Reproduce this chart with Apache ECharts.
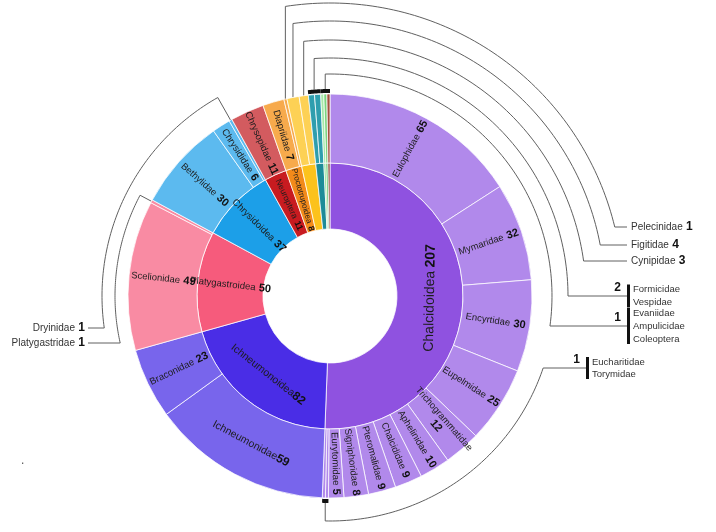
<!DOCTYPE html>
<html><head><meta charset="utf-8">
<script src="https://cdn.jsdelivr.net/npm/echarts/dist/echarts.min.js"></script>
<style>html,body{margin:0;padding:0;background:#fff}#c{width:716px;height:532px}</style>
</head><body><div id="c"></div>
<script>
// ---------------- data ----------------
const superfamilies = ['Chalcidoidea','Ichneumonoidea','Platygastroidea','Chrysidoidea','Neuroptera','Proctotrupoidea','Cynipoidea','Vespoidea','Evanioidea','Apoidea','Coleoptera'];
const families = [
  ['Eulophidae','Mymaridae','Encyrtidae','Eupelmidae','Trichogrammatidae','Aphelinidae','Chalcididae','Pteromalidae','Signiphoridae','Eurytomidae','Eucharitidae','Torymidae'],
  ['Ichneumonidae','Braconidae'],
  ['Scelionidae','Platygastridae'],
  ['Bethylidae','Chrysididae','Dryinidae'],
  ['Chrysopidae'],
  ['Diapriidae','Pelecinidae'],
  ['Figitidae','Cynipidae'],
  ['Formicidae','Vespidae'],
  ['Evaniidae'],
  ['Ampulicidae'],
  ['Coleoptera']
];
const familyCounts = [
  [65,32,30,25,12,10,9,9,8,5,1,1],
  [59,23],
  [49,1],
  [30,6,1],
  [11],
  [7,1],
  [4,3],
  [2,2],
  [1],
  [1],
  [1]
];
// annotated (unlabelled) small families
const rightLeaders = [['Pelecinidae'],['Figitidae'],['Cynipidae'],['Formicidae','Vespidae'],['Evaniidae','Ampulicidae','Coleoptera']];
const bottomLeader = ['Eucharitidae','Torymidae'];
const leftLeaders = [['Dryinidae'],['Platygastridae']];

// ---------------- styles ----------------
const innerColors = ['#8f52e0','#4a2de6','#f65b7c','#1c9fe8','#c81b20','#f28a1a','#fcc21c','#1d8b98','#8ade92','#52c05e','#8a3328'];
const outerColors = ['#b189eb','#7865ec','#f98ba3','#5cbaef','#d35b5f','#f7aa4c','#fdd155','#2e9eae','#a6e8a8','#7ad480','#a5503f'];
const FONT = 'Liberation Sans, Arial, sans-serif';
const CX = 330, CY = 296, R0 = 67, R1 = 133, R2 = 202;

const hidden = ['Eucharitidae','Torymidae','Platygastridae','Dryinidae','Pelecinidae','Figitidae','Cynipidae','Formicidae','Vespidae','Evaniidae','Ampulicidae','Coleoptera','Cynipoidea','Vespoidea','Evanioidea','Apoidea'];
const tangential = ['Chalcidoidea','Ichneumonoidea','Ichneumonidae'];
const joined = ['Ichneumonoidea','Ichneumonidae'];
const twoLine = ['Trichogrammatidae'];
const richFor = (n, b) => ({n:{fontSize:n, color:'#1d1d1d', fontFamily:FONT}, b:{fontSize:b, fontWeight:'bold', color:'#111', fontFamily:FONT}});
const richOverride = {
  'Chalcidoidea': richFor(14, 14),
  'Ichneumonoidea': richFor(10.5, 12),
  'Ichneumonidae': richFor(10.5, 12),
  'Neuroptera': richFor(8.5, 9),
  'Proctotrupoidea': richFor(8, 8.5)
};

function labelFor(name) {
  const l = {};
  if (hidden.includes(name)) l.show = false;
  if (tangential.includes(name)) l.rotate = 'tangential';
  if (richOverride[name]) l.rich = richOverride[name];
  return l;
}

const data = superfamilies.map((sf, i) => ({
  name: sf,
  itemStyle: {color: innerColors[i]},
  label: labelFor(sf),
  children: families[i].map((f, j) => ({
    name: f,
    value: familyCounts[i][j],
    itemStyle: {color: outerColors[i]},
    label: i === 10 ? {show:false} : labelFor(f)
  }))
}));

// ---------------- geometry from data ----------------
const span = {}, countOf = {};
let cum = 0;
families.forEach((fs, i) => fs.forEach((f, j) => {
  span[f] = [cum, cum + familyCounts[i][j]];
  countOf[f] = familyCounts[i][j];
  cum += familyCounts[i][j];
}));
const total = cum;
const ang = v => v / total * Math.PI * 2;          // clockwise from 12 o'clock
const pt = (r, a) => [CX + r * Math.sin(a), CY - r * Math.cos(a)];
function arcPts(R, p1, p2, n) {
  const out = [];
  for (let k = 0; k <= n; k++) {
    const p = p1 + (p2 - p1) * k / n;
    out.push([CX + R * Math.cos(p), CY + R * Math.sin(p)]);
  }
  return out;
}
const LINE = {stroke:'#606060', lineWidth:1, fill:null};
const graphics = [];
function poly(points, style) {
  graphics.push({type:'polyline', silent:true, shape:{points}, style:Object.assign({}, LINE, style || {})});
}
function text(x, y, t, rich, align) {
  graphics.push({type:'text', silent:true, x, y, style:{text:t, rich, align:align || 'left', verticalAlign:'middle', textAlign:align || 'left', textVerticalAlign:'middle', fontFamily:FONT, fill:'#333'}});
}
const annRich = {n:{fontSize:10, fontFamily:FONT, fill:'#333', color:'#333'}, b:{fontSize:12, fontWeight:'bold', fontFamily:FONT, fill:'#111', color:'#111'}};
const grpRich = {n:{fontSize:9.5, fontFamily:FONT, color:'#333', fill:'#333'}};
const numRich = {b:{fontSize:12, fontWeight:'bold', fontFamily:FONT, color:'#111', fill:'#111'}};

function groupBar(names) {
  const a1 = ang(span[names[0]][0]), a2 = ang(span[names[names.length - 1]][1]);
  const pts = [];
  for (let k = 0; k <= 10; k++) pts.push(pt(R2 + 3, a1 + (a2 - a1) * k / 10));
  poly(pts, {stroke:'#111', lineWidth:4});
  return (a1 + a2) / 2;
}

// right-hand leaders (top)
const rightR = [293, 275, 256, 238, 222];
const rightY = [227, 245, 261, 296, 326];
const RIGHT_X = 627;
rightLeaders.forEach((names, i) => {
  const R = rightR[i], y = rightY[i];
  let x0, y0;
  if (names.length === 1) {
    [x0, y0] = pt(R2, ang((span[names[0]][0] + span[names[0]][1]) / 2));
  } else {
    [x0, y0] = pt(R2 + 5, groupBar(names));
  }
  const yTop = CY - Math.sqrt(R * R - (x0 - CX) * (x0 - CX));
  const p1 = Math.atan2(yTop - CY, x0 - CX);
  const xEnd = CX + Math.sqrt(R * R - (y - CY) * (y - CY));
  const p2 = Math.atan2(y - CY, xEnd - CX);
  poly([[x0, y0], [x0, yTop], ...arcPts(R, p1, p2, 80), [names.length === 1 ? RIGHT_X : RIGHT_X + 1, y]]);
  if (names.length === 1) {
    text(RIGHT_X + 4, y, '{n|' + names[0] + '} {b|' + countOf[names[0]] + '}', annRich);
  } else {
    const n = names.length, sp = 13;
    const first = y - sp * (n - 1) / 2;
    poly([[RIGHT_X + 1.5, first - 5], [RIGHT_X + 1.5, first + sp * (n - 1) + 5]], {stroke:'#111', lineWidth:3});
    names.forEach((nm, k) => text(RIGHT_X + 6, first + sp * k, '{n|' + nm + '}', grpRich));
    text(RIGHT_X - 6, y - 8, '{b|' + countOf[names[0]] + '}', numRich, 'right');
  }
});

// bottom leader
(function () {
  const R = 225, y = 368, barX = 586;
  const [x0, y0] = pt(R2 + 5, groupBar(bottomLeader));
  const yB = CY + Math.sqrt(R * R - (x0 - CX) * (x0 - CX));
  const p1 = Math.atan2(yB - CY, x0 - CX);
  const xEnd = CX + Math.sqrt(R * R - (y - CY) * (y - CY));
  const p2 = Math.atan2(y - CY, xEnd - CX);
  poly([[x0, y0], [x0, yB], ...arcPts(R, p1, p2, 80), [barX, y]]);
  const n = bottomLeader.length, sp = 12, first = y - sp * (n - 1) / 2;
  poly([[barX + 1.5, first - 5], [barX + 1.5, first + sp * (n - 1) + 5]], {stroke:'#111', lineWidth:3});
  bottomLeader.forEach((nm, k) => text(barX + 6, first + sp * k, '{n|' + nm + '}', grpRich));
  text(barX - 6, y - 8, '{b|' + countOf[bottomLeader[0]] + '}', numRich, 'right');
})();

// left leaders
const leftR = [228, 215];
const leftY = [328, 343];
const LEFT_X = 88;
leftLeaders.forEach((names, i) => {
  const R = leftR[i], y = leftY[i];
  const a = ang((span[names[0]][0] + span[names[0]][1]) / 2);
  const [xs, ys] = pt(R2, a);
  const [xk, yk] = pt(R, a);
  let p1 = Math.atan2(yk - CY, xk - CX);
  if (p1 < 0) p1 += Math.PI * 2;
  const xEnd = CX - Math.sqrt(R * R - (y - CY) * (y - CY));
  const p2 = Math.atan2(y - CY, xEnd - CX);
  poly([[xs, ys], [xk, yk], ...arcPts(R, p1, p2, 80), [LEFT_X, y]]);
  text(LEFT_X - 3, y, '{n|' + names[0] + '} {b|' + countOf[names[0]] + '}', annRich, 'right');
});
graphics.push({type:'text', silent:true, x:21, y:455, style:{text:'.', fontSize:12, fill:'#555'}});

// ---------------- chart ----------------
const chart = echarts.init(document.getElementById('c'), null, {renderer:'canvas'});
chart.setOption({
  animation: false,
  backgroundColor: '#fff',
  series: [{
    type: 'sunburst',
    center: [CX, CY],
    radius: [0, R2],
    sort: null,
    startAngle: 90,
    clockwise: true,
    nodeClick: false,
    emphasis: {disabled: true},
    itemStyle: {borderColor: 'rgba(255,255,255,0.75)', borderWidth: 1},
    label: {
      rotate: 'radial',
      color: '#1d1d1d',
      fontFamily: FONT,
      formatter: p => twoLine.includes(p.name)
        ? '{n|' + p.name + '}\n{b|' + p.value + '}'
        : '{n|' + p.name + '}' + (joined.includes(p.name) ? '' : ' ') + '{b|' + p.value + '}',
      rich: richFor(9.5, 11)
    },
    levels: [
      {},
      {r0: R0, r: R1},
      {r0: R1, r: R2}
    ],
    data
  }],
  graphic: {elements: graphics}
});
</script>
</body></html>
